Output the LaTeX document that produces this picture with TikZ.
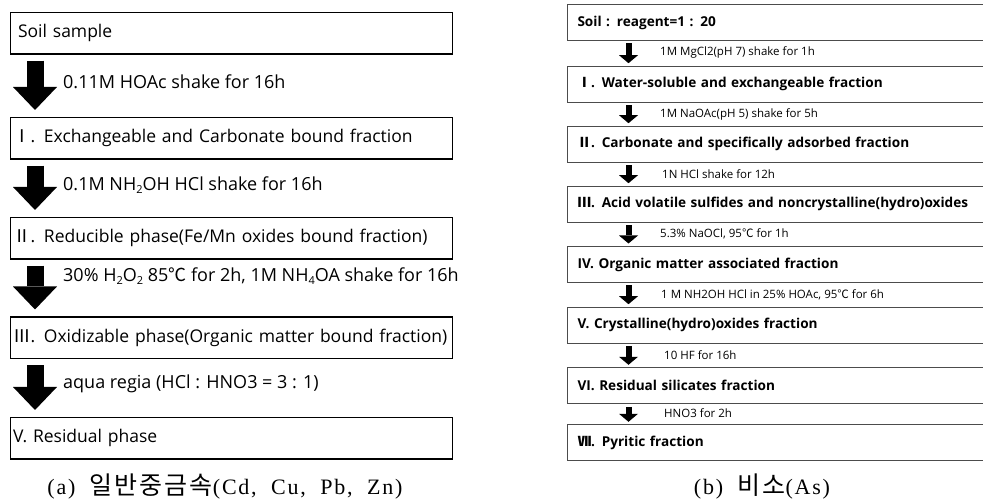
\documentclass[tikz,border=0pt]{standalone}
\usepackage{fontspec}
\setmainfont{Open Sans}
\newfontfamily\krfont{Noto Sans CJK KR}
\newfontfamily\krcapfont[LetterSpace=8]{Noto Sans CJK KR}
\newfontfamily\capfont[LetterSpace=8, WordSpace=2]{Liberation Serif}
\usetikzlibrary{arrows.meta, positioning}

% roman numerals and the degree sign come from the CJK face
\newcommand{\rn}[1]{{\krfont #1}}
\newcommand{\chsub}[1]{\raisebox{-0.35ex}{\fontsize{11}{11}\selectfont #1}}
\newcommand{\hangul}[1]{{\krcapfont\fontsize{25}{30}\selectfont #1}}

\begin{document}
\begin{tikzpicture}[
  x=1pt, y=-1pt,
  every node/.style={inner sep=0pt},
  leftbox/.style={draw, line width=1.1pt, anchor=north west, align=left,
                  text width=437pt, inner xsep=2.5pt, minimum height=41.5pt,
                  font=\fontsize{17.5}{20}\selectfont},
  rightbox/.style={draw=black!70, line width=1pt, anchor=north west, align=left,
                   text width=410pt, inner xsep=10pt, minimum height=36pt,
                   font=\bfseries\fontsize{13.6}{16}\selectfont},
  leftlabel/.style={anchor=west, font=\fontsize{18}{20}\selectfont},
  rightlabel/.style={anchor=west, font=\fontsize{11.5}{13}\selectfont},
  caption/.style={font=\capfont\fontsize{22}{26}\selectfont},
  fatarrow/.style={line width=17pt, shorten <=6pt, shorten >=7pt,
                   -{Triangle[length=23pt, width=44pt, line width=0pt]}},
  thinarrow/.style={line width=6pt, shorten <=2.5pt, shorten >=2.5pt,
                    -{Triangle[length=8pt, width=19pt, line width=0pt]}}
]
  \useasboundingbox (0,0) rectangle (983,502);

  %% (a) heavy metals
  \node[leftbox] (a0) at (10, 12)    {\hspace*{5pt}Soil sample};
  \node[leftbox] (a1) at (10, 117)   {\rn{Ⅰ}. Exchangeable and Carbonate bound fraction};
  \node[leftbox] (a2) at (10, 217)   {\rn{Ⅱ}. Reducible phase(Fe/Mn oxides bound fraction)};
  \node[leftbox] (a3) at (10, 316.5) {\rn{Ⅲ}. Oxidizable phase(Organic matter bound fraction)};
  \node[leftbox] (a4) at (10, 417)   {V. Residual phase};

  \draw[fatarrow] ([xshift=25pt]a0.south west) -- ([xshift=25pt]a1.north west);
  \draw[fatarrow] ([xshift=25pt]a1.south west) -- ([xshift=25pt]a2.north west);
  \draw[fatarrow] ([xshift=25pt]a2.south west) -- ([xshift=25pt]a3.north west);
  \draw[fatarrow] ([xshift=25pt]a3.south west) -- ([xshift=25pt]a4.north west);

  \node[leftlabel] (la1) at (63, 82)  {0.11M HOAc shake for 16h};
  \node[leftlabel] (la2) at (63, 185) {0.1M NH\chsub{2}OH HCl shake for 16h};
  \node[leftlabel] (la3) at (63, 276) {30\% H\chsub{2}O\chsub{2} 85\rn{℃} for 2h, 1M NH\chsub{4}OA shake for 16h};
  \node[leftlabel] (la4) at (63, 384) {aqua regia (HCl : HNO3 = 3 : 1)};

  \node[caption] (capa) at (225, 487) {(a) \hangul{일반중금속}(Cd, Cu, Pb, Zn)};

  %% (b) arsenic
  \node[rightbox] (b0) at (567, 4)     {Soil : reagent=1 : 20};
  \node[rightbox] (b1) at (567, 65.7)  {\rn{Ⅰ}. Water-soluble and exchangeable fraction};
  \node[rightbox] (b2) at (567, 125.7) {\rn{Ⅱ}. Carbonate and specifically adsorbed fraction};
  \node[rightbox] (b3) at (567, 185.7) {\rn{Ⅲ}. Acid volatile sulfides and noncrystalline(hydro)oxides};
  \node[rightbox] (b4) at (567, 246)   {IV. Organic matter associated fraction};
  \node[rightbox] (b5) at (567, 306.7) {V. Crystalline(hydro)oxides fraction};
  \node[rightbox] (b6) at (567, 367.3) {VI. Residual silicates fraction};
  \node[rightbox] (b7) at (567, 424.3) {\rn{Ⅶ}. Pyritic fraction};

  \foreach \i/\j in {0/1, 1/2, 2/3, 3/4, 4/5, 5/6, 6/7}
    \draw[thinarrow] ([xshift=61.5pt]b\i.south west) -- ([xshift=61.5pt]b\j.north west);

  \node[rightlabel] (lb1) at (660, 52)  {1M MgCl2(pH 7) shake for 1h};
  \node[rightlabel] (lb2) at (660, 114) {1M NaOAc(pH 5) shake for 5h};
  \node[rightlabel] (lb3) at (662, 174) {1N HCl shake for 12h};
  \node[rightlabel] (lb4) at (660, 234) {5.3\% NaOCl, 95\rn{℃} for 1h};
  \node[rightlabel] (lb5) at (661, 295) {1 M NH2OH HCl in 25\% HOAc, 95\rn{℃} for 6h};
  \node[rightlabel] (lb6) at (664, 355) {10 HF for 16h};
  \node[rightlabel] (lb7) at (664, 413) {HNO3 for 2h};

  \node[caption] (capb) at (762, 487) {(b) \hangul{비소}(As)};
\end{tikzpicture}
\end{document}
